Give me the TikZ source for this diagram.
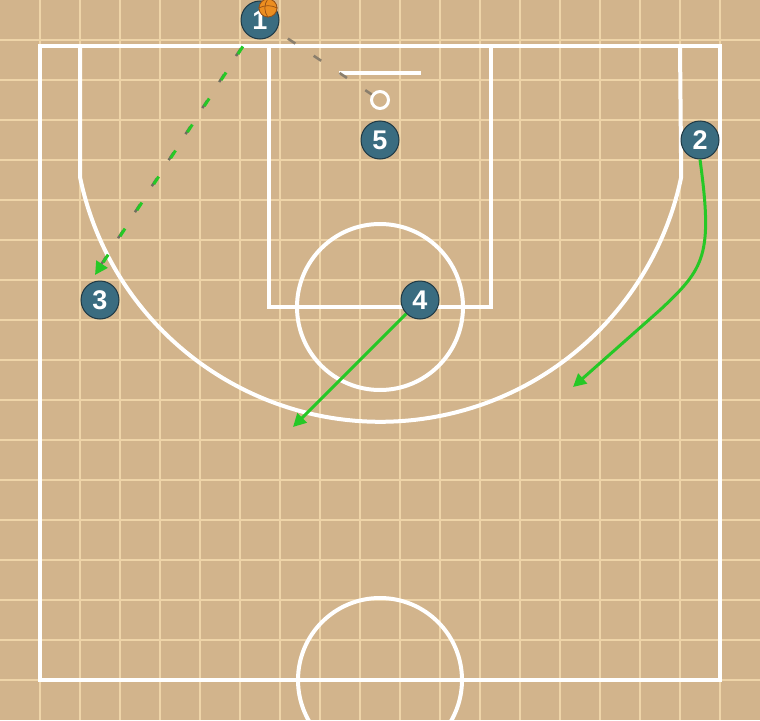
\documentclass[tikz,border=0pt]{standalone}
\usepackage{fontspec}
\setsansfont{Liberation Sans}
\usetikzlibrary{arrows.meta}
\definecolor{floor}{RGB}{210,180,140}
\definecolor{gridline}{RGB}{238,212,168}
\definecolor{plfill}{RGB}{58,108,128}
\definecolor{plrim}{RGB}{30,56,68}
\definecolor{cutgreen}{RGB}{38,200,38}
\definecolor{shotgray}{RGB}{138,126,108}
\definecolor{passshade}{RGB}{110,110,95}
\definecolor{ballorange}{RGB}{236,142,32}
\definecolor{ballseam}{RGB}{150,80,20}
\begin{document}
\begin{tikzpicture}[x=1pt,y=-1pt,
  player/.style={circle, minimum size=38pt, inner sep=0pt, fill=plfill, draw=plrim, line width=1pt, text=white, font=\sffamily\bfseries\fontsize{27}{27}\selectfont},
  court/.style={white, line width=4pt},
  hoop/.style={circle, draw=white, line width=3pt, minimum size=17pt, inner sep=0pt},
  ball/.style={circle, minimum size=18pt, inner sep=0pt, fill=ballorange, draw=ballseam, line width=0.8pt},
  cut/.style={cutgreen, line width=3pt, -{Triangle[length=13pt,width=13pt]}},
  pass/.style={cutgreen, line width=3pt, dash pattern=on 9pt off 22pt, shorten <=12pt, -{Triangle[length=13pt,width=13pt]}},
  passshadow/.style={passshade, line width=2.5pt, dash pattern=on 9pt off 22pt, shorten <=12pt, shorten >=13pt},
  shot/.style={shotgray, line width=2.5pt, dash pattern=on 9pt off 22pt, shorten <=14pt}]
\useasboundingbox (0,0) rectangle (760,720);
\clip (0,0) rectangle (760,720);
\fill[floor] (0,0) rectangle (760,720);
\foreach \i in {1,...,18} \draw[gridline, line width=1.3pt] (40*\i,0) -- (40*\i,720);
\foreach \j in {1,...,17} \draw[gridline, line width=1.3pt] (0,40*\j) -- (760,40*\j);

\draw[court] (40,46) rectangle (720,680);
\draw[court] (269,46) rectangle (491,307);
\draw[court] (380,307) circle[radius=83];
\draw[court] (80,46) -- (80,177) arc[start angle=168.3, end angle=11.7, radius=307] -- (680,46);
\draw[court] (339,73) -- (421,73);
\draw[court] (380,680) circle[radius=82];
\node[hoop] (hoop) at (380,100) {};

\node[player] (p1) at (260,20) {1};
\node[player] (p2) at (700,140) {2};
\node[player] (p3) at (100,300) {3};
\node[player] (p4) at (420,300) {4};
\node[player] (p5) at (380,140) {5};
\coordinate (pass3) at (95,275);
\coordinate (cut2) at (573,387);
\coordinate (cut4) at (293,427);

\draw[shot](p1) -- (hoop);
\draw[passshadow, transform canvas={shift={(-2,2)}}](p1) -- (pass3);
\draw[pass](p1) -- (pass3);
\draw[cut](p2.south) .. controls (713,255) and (705,268) .. (660,310) -- (cut2);
\draw[cut](p4) -- (cut4);

\node[ball] (ball) at (268,8) {};
\draw[ballseam, line width=0.7pt](ball.north) to[bend right=35] (ball.south);
\draw[ballseam, line width=0.7pt](ball.west) to[bend left=25] (ball.east);
\end{tikzpicture}
\end{document}
